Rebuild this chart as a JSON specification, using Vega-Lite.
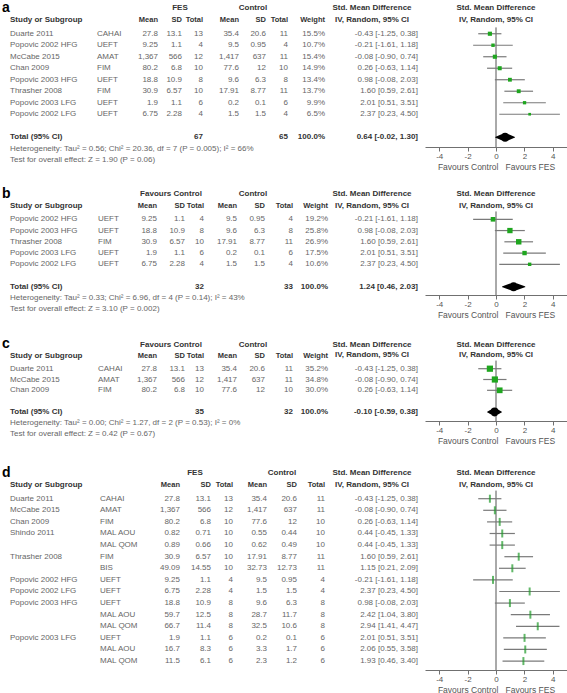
{
"$schema": "https://vega.github.io/schema/vega-lite/v6.json",
"padding": 0,
"background": "white",
"spacing": 0,
"bounds": "flush",
"columns": 2,
"resolve": {"scale": {"size": "independent"}},
"config": {"font": "Liberation Sans", "view": {"stroke": null}, "text": {"fontSize": 8, "color": "#666666"},
"axisX": {"grid": false, "domainColor": "#707070", "tickColor": "#707070", "tickSize": 4, "labelFontSize": 8, "labelColor": "#555555", "labelPadding": 1, "labelOverlap": false, "labelSeparation": 0, "titleFontSize": 8.5, "titleFontWeight": "normal", "titleColor": "#555555", "titlePadding": 2}},
"datasets": {
"cols": [{"key":"letter","col":0},{"key":"study","col":1},{"key":"measure","col":2},{"key":"m1","col":3},{"key":"g1","col":4},{"key":"sd1","col":5},{"key":"n1","col":6},{"key":"m2","col":7},{"key":"g2","col":8},{"key":"sd2","col":9},{"key":"n2","col":10},{"key":"wt","col":11},{"key":"smdh","col":12},{"key":"ci","col":13}],
"heads": [
{"panel":"a","row":-1,"key":"letter","text":"a","kind":"letter"},
{"panel":"a","row":-1,"key":"g1","text":"FES","kind":"center"},
{"panel":"a","row":-1,"key":"g2","text":"Control","kind":"center"},
{"panel":"a","row":-1,"key":"smdh","text":"Std. Mean Difference","kind":"center"},
{"panel":"a","row":0,"key":"smdh","text":"IV, Random, 95% CI","kind":"center"},
{"panel":"a","row":0,"key":"study","text":"Study or Subgroup","kind":"left"},
{"panel":"a","row":0,"key":"m1","text":"Mean","kind":"right"},
{"panel":"a","row":0,"key":"sd1","text":"SD","kind":"right"},
{"panel":"a","row":0,"key":"n1","text":"Total","kind":"right"},
{"panel":"a","row":0,"key":"m2","text":"Mean","kind":"right"},
{"panel":"a","row":0,"key":"sd2","text":"SD","kind":"right"},
{"panel":"a","row":0,"key":"n2","text":"Total","kind":"right"},
{"panel":"a","row":0,"key":"wt","text":"Weight","kind":"right"},
{"panel":"a","row":-1,"key":"plot","text":"Std. Mean Difference","kind":"plot"},
{"panel":"a","row":0,"key":"plot","text":"IV, Random, 95% CI","kind":"plot"},
{"panel":"a","row":11,"key":"study","text":"Heterogeneity: Tau² = 0.56; Chi² = 20.36, df = 7 (P = 0.005); I² = 66%","kind":"note"},
{"panel":"a","row":12,"key":"study","text":"Test for overall effect: Z = 1.90 (P = 0.06)","kind":"note"},
{"panel":"b","row":-1,"key":"letter","text":"b","kind":"letter"},
{"panel":"b","row":-1,"key":"g1","text":"Favours Control","kind":"center"},
{"panel":"b","row":-1,"key":"g2","text":"Control","kind":"center"},
{"panel":"b","row":-1,"key":"smdh","text":"Std. Mean Difference","kind":"center"},
{"panel":"b","row":0,"key":"smdh","text":"IV, Random, 95% CI","kind":"center"},
{"panel":"b","row":0,"key":"study","text":"Study or Subgroup","kind":"left"},
{"panel":"b","row":0,"key":"m1","text":"Mean","kind":"right"},
{"panel":"b","row":0,"key":"sd1","text":"SD","kind":"right"},
{"panel":"b","row":0,"key":"n1","text":"Total","kind":"right"},
{"panel":"b","row":0,"key":"m2","text":"Mean","kind":"right"},
{"panel":"b","row":0,"key":"sd2","text":"SD","kind":"right"},
{"panel":"b","row":0,"key":"n2","text":"Total","kind":"right"},
{"panel":"b","row":0,"key":"wt","text":"Weight","kind":"right"},
{"panel":"b","row":-1,"key":"plot","text":"Std. Mean Difference","kind":"plot"},
{"panel":"b","row":0,"key":"plot","text":"IV, Random, 95% CI","kind":"plot"},
{"panel":"b","row":8,"key":"study","text":"Heterogeneity: Tau² = 0.33; Chi² = 6.96, df = 4 (P = 0.14); I² = 43%","kind":"note"},
{"panel":"b","row":9,"key":"study","text":"Test for overall effect: Z = 3.10 (P = 0.002)","kind":"note"},
{"panel":"c","row":-1,"key":"letter","text":"c","kind":"letter"},
{"panel":"c","row":-1,"key":"g1","text":"Favours Control","kind":"center"},
{"panel":"c","row":-1,"key":"g2","text":"Control","kind":"center"},
{"panel":"c","row":-1,"key":"smdh","text":"Std. Mean Difference","kind":"center"},
{"panel":"c","row":0,"key":"smdh","text":"IV, Random, 95% CI","kind":"center"},
{"panel":"c","row":0,"key":"study","text":"Study or Subgroup","kind":"left"},
{"panel":"c","row":0,"key":"m1","text":"Mean","kind":"right"},
{"panel":"c","row":0,"key":"sd1","text":"SD","kind":"right"},
{"panel":"c","row":0,"key":"n1","text":"Total","kind":"right"},
{"panel":"c","row":0,"key":"m2","text":"Mean","kind":"right"},
{"panel":"c","row":0,"key":"sd2","text":"SD","kind":"right"},
{"panel":"c","row":0,"key":"n2","text":"Total","kind":"right"},
{"panel":"c","row":0,"key":"wt","text":"Weight","kind":"right"},
{"panel":"c","row":-1,"key":"plot","text":"Std. Mean Difference","kind":"plot"},
{"panel":"c","row":0,"key":"plot","text":"IV, Random, 95% CI","kind":"plot"},
{"panel":"c","row":6,"key":"study","text":"Heterogeneity: Tau² = 0.00; Chi² = 1.27, df = 2 (P = 0.53); I² = 0%","kind":"note"},
{"panel":"c","row":7,"key":"study","text":"Test for overall effect: Z = 0.42 (P = 0.67)","kind":"note"},
{"panel":"d","row":-1,"key":"letter","text":"d","kind":"letter"},
{"panel":"d","row":-1,"key":"g1","text":"FES","kind":"center"},
{"panel":"d","row":-1,"key":"g2","text":"Control","kind":"center"},
{"panel":"d","row":-1,"key":"smdh","text":"Std. Mean Difference","kind":"center"},
{"panel":"d","row":0,"key":"smdh","text":"IV, Random, 95% CI","kind":"center"},
{"panel":"d","row":0,"key":"study","text":"Study or Subgroup","kind":"left"},
{"panel":"d","row":0,"key":"m1","text":"Mean","kind":"right"},
{"panel":"d","row":0,"key":"sd1","text":"SD","kind":"right"},
{"panel":"d","row":0,"key":"n1","text":"Total","kind":"right"},
{"panel":"d","row":0,"key":"m2","text":"Mean","kind":"right"},
{"panel":"d","row":0,"key":"sd2","text":"SD","kind":"right"},
{"panel":"d","row":0,"key":"n2","text":"Total","kind":"right"},
{"panel":"d","row":-1,"key":"plot","text":"Std. Mean Difference","kind":"plot"},
{"panel":"d","row":0,"key":"plot","text":"IV, Random, 95% CI","kind":"plot"}
],
"studies": [
{"panel":"a","row":1,"study":"Duarte 2011","measure":"CAHAI","m1":"27.8","sd1":"13.1","n1":"13","m2":"35.4","sd2":"20.6","n2":"11","wt":"15.5%","ci":"-0.43 [-1.25, 0.38]","smd":-0.43,"lo":-1.25,"hi":0.38,"w":15.5},
{"panel":"a","row":2,"study":"Popovic 2002 HFG","measure":"UEFT","m1":"9.25","sd1":"1.1","n1":"4","m2":"9.5","sd2":"0.95","n2":"4","wt":"10.7%","ci":"-0.21 [-1.61, 1.18]","smd":-0.21,"lo":-1.61,"hi":1.18,"w":10.7},
{"panel":"a","row":3,"study":"McCabe 2015","measure":"AMAT","m1":"1,367","sd1":"566","n1":"12","m2":"1,417","sd2":"637","n2":"11","wt":"15.4%","ci":"-0.08 [-0.90, 0.74]","smd":-0.08,"lo":-0.90,"hi":0.74,"w":15.4},
{"panel":"a","row":4,"study":"Chan 2009","measure":"FIM","m1":"80.2","sd1":"6.8","n1":"10","m2":"77.6","sd2":"12","n2":"10","wt":"14.9%","ci":"0.26 [-0.63, 1.14]","smd":0.26,"lo":-0.63,"hi":1.14,"w":14.9},
{"panel":"a","row":5,"study":"Popovic 2003 HFG","measure":"UEFT","m1":"18.8","sd1":"10.9","n1":"8","m2":"9.6","sd2":"6.3","n2":"8","wt":"13.4%","ci":"0.98 [-0.08, 2.03]","smd":0.98,"lo":-0.08,"hi":2.03,"w":13.4},
{"panel":"a","row":6,"study":"Thrasher 2008","measure":"FIM","m1":"30.9","sd1":"6.57","n1":"10","m2":"17.91","sd2":"8.77","n2":"11","wt":"13.7%","ci":"1.60 [0.59, 2.61]","smd":1.60,"lo":0.59,"hi":2.61,"w":13.7},
{"panel":"a","row":7,"study":"Popovic 2003 LFG","measure":"UEFT","m1":"1.9","sd1":"1.1","n1":"6","m2":"0.2","sd2":"0.1","n2":"6","wt":"9.9%","ci":"2.01 [0.51, 3.51]","smd":2.01,"lo":0.51,"hi":3.51,"w":9.9},
{"panel":"a","row":8,"study":"Popovic 2002 LFG","measure":"UEFT","m1":"6.75","sd1":"2.28","n1":"4","m2":"1.5","sd2":"1.5","n2":"4","wt":"6.5%","ci":"2.37 [0.23, 4.50]","smd":2.37,"lo":0.23,"hi":4.50,"w":6.5},
{"panel":"b","row":1,"study":"Popovic 2002 HFG","measure":"UEFT","m1":"9.25","sd1":"1.1","n1":"4","m2":"9.5","sd2":"0.95","n2":"4","wt":"19.2%","ci":"-0.21 [-1.61, 1.18]","smd":-0.21,"lo":-1.61,"hi":1.18,"w":19.2},
{"panel":"b","row":2,"study":"Popovic 2003 HFG","measure":"UEFT","m1":"18.8","sd1":"10.9","n1":"8","m2":"9.6","sd2":"6.3","n2":"8","wt":"25.8%","ci":"0.98 [-0.08, 2.03]","smd":0.98,"lo":-0.08,"hi":2.03,"w":25.8},
{"panel":"b","row":3,"study":"Thrasher 2008","measure":"FIM","m1":"30.9","sd1":"6.57","n1":"10","m2":"17.91","sd2":"8.77","n2":"11","wt":"26.9%","ci":"1.60 [0.59, 2.61]","smd":1.60,"lo":0.59,"hi":2.61,"w":26.9},
{"panel":"b","row":4,"study":"Popovic 2003 LFG","measure":"UEFT","m1":"1.9","sd1":"1.1","n1":"6","m2":"0.2","sd2":"0.1","n2":"6","wt":"17.5%","ci":"2.01 [0.51, 3.51]","smd":2.01,"lo":0.51,"hi":3.51,"w":17.5},
{"panel":"b","row":5,"study":"Popovic 2002 LFG","measure":"UEFT","m1":"6.75","sd1":"2.28","n1":"4","m2":"1.5","sd2":"1.5","n2":"4","wt":"10.6%","ci":"2.37 [0.23, 4.50]","smd":2.37,"lo":0.23,"hi":4.50,"w":10.6},
{"panel":"c","row":1,"study":"Duarte 2011","measure":"CAHAI","m1":"27.8","sd1":"13.1","n1":"13","m2":"35.4","sd2":"20.6","n2":"11","wt":"35.2%","ci":"-0.43 [-1.25, 0.38]","smd":-0.43,"lo":-1.25,"hi":0.38,"w":35.2},
{"panel":"c","row":2,"study":"McCabe 2015","measure":"AMAT","m1":"1,367","sd1":"566","n1":"12","m2":"1,417","sd2":"637","n2":"11","wt":"34.8%","ci":"-0.08 [-0.90, 0.74]","smd":-0.08,"lo":-0.90,"hi":0.74,"w":34.8},
{"panel":"c","row":3,"study":"Chan 2009","measure":"FIM","m1":"80.2","sd1":"6.8","n1":"10","m2":"77.6","sd2":"12","n2":"10","wt":"30.0%","ci":"0.26 [-0.63, 1.14]","smd":0.26,"lo":-0.63,"hi":1.14,"w":30.0},
{"panel":"d","row":1,"study":"Duarte 2011","measure":"CAHAI","m1":"27.8","sd1":"13.1","n1":"13","m2":"35.4","sd2":"20.6","n2":"11","ci":"-0.43 [-1.25, 0.38]","smd":-0.43,"lo":-1.25,"hi":0.38},
{"panel":"d","row":2,"study":"McCabe 2015","measure":"AMAT","m1":"1,367","sd1":"566","n1":"12","m2":"1,417","sd2":"637","n2":"11","ci":"-0.08 [-0.90, 0.74]","smd":-0.08,"lo":-0.90,"hi":0.74},
{"panel":"d","row":3,"study":"Chan 2009","measure":"FIM","m1":"80.2","sd1":"6.8","n1":"10","m2":"77.6","sd2":"12","n2":"10","ci":"0.26 [-0.63, 1.14]","smd":0.26,"lo":-0.63,"hi":1.14},
{"panel":"d","row":4,"study":"Shindo 2011","measure":"MAL AOU","m1":"0.82","sd1":"0.71","n1":"10","m2":"0.55","sd2":"0.44","n2":"10","ci":"0.44 [-0.45, 1.33]","smd":0.44,"lo":-0.45,"hi":1.33},
{"panel":"d","row":5,"study":"","measure":"MAL QOM","m1":"0.89","sd1":"0.66","n1":"10","m2":"0.62","sd2":"0.49","n2":"10","ci":"0.44 [-0.45, 1.33]","smd":0.44,"lo":-0.45,"hi":1.33},
{"panel":"d","row":6,"study":"Thrasher 2008","measure":"FIM","m1":"30.9","sd1":"6.57","n1":"10","m2":"17.91","sd2":"8.77","n2":"11","ci":"1.60 [0.59, 2.61]","smd":1.60,"lo":0.59,"hi":2.61},
{"panel":"d","row":7,"study":"","measure":"BIS","m1":"49.09","sd1":"14.55","n1":"10","m2":"32.73","sd2":"12.73","n2":"11","ci":"1.15 [0.21, 2.09]","smd":1.15,"lo":0.21,"hi":2.09},
{"panel":"d","row":8,"study":"Popovic 2002 HFG","measure":"UEFT","m1":"9.25","sd1":"1.1","n1":"4","m2":"9.5","sd2":"0.95","n2":"4","ci":"-0.21 [-1.61, 1.18]","smd":-0.21,"lo":-1.61,"hi":1.18},
{"panel":"d","row":9,"study":"Popovic 2002 LFG","measure":"UEFT","m1":"6.75","sd1":"2.28","n1":"4","m2":"1.5","sd2":"1.5","n2":"4","ci":"2.37 [0.23, 4.50]","smd":2.37,"lo":0.23,"hi":4.50},
{"panel":"d","row":10,"study":"Popovic 2003 HFG","measure":"UEFT","m1":"18.8","sd1":"10.9","n1":"8","m2":"9.6","sd2":"6.3","n2":"8","ci":"0.98 [-0.08, 2.03]","smd":0.98,"lo":-0.08,"hi":2.03},
{"panel":"d","row":11,"study":"","measure":"MAL AOU","m1":"59.7","sd1":"12.5","n1":"8","m2":"28.7","sd2":"11.7","n2":"8","ci":"2.42 [1.04, 3.80]","smd":2.42,"lo":1.04,"hi":3.80},
{"panel":"d","row":12,"study":"","measure":"MAL QOM","m1":"66.7","sd1":"11.4","n1":"8","m2":"32.5","sd2":"10.6","n2":"8","ci":"2.94 [1.41, 4.47]","smd":2.94,"lo":1.41,"hi":4.47},
{"panel":"d","row":13,"study":"Popovic 2003 LFG","measure":"UEFT","m1":"1.9","sd1":"1.1","n1":"6","m2":"0.2","sd2":"0.1","n2":"6","ci":"2.01 [0.51, 3.51]","smd":2.01,"lo":0.51,"hi":3.51},
{"panel":"d","row":14,"study":"","measure":"MAL AOU","m1":"16.7","sd1":"8.3","n1":"6","m2":"3.3","sd2":"1.7","n2":"6","ci":"2.06 [0.55, 3.58]","smd":2.06,"lo":0.55,"hi":3.58},
{"panel":"d","row":15,"study":"","measure":"MAL QOM","m1":"11.5","sd1":"6.1","n1":"6","m2":"2.3","sd2":"1.2","n2":"6","ci":"1.93 [0.46, 3.40]","smd":1.93,"lo":0.46,"hi":3.40}
],
"totals": [
{"panel":"a","row":10,"study":"Total (95% CI)","n1":"67","n2":"65","wt":"100.0%","ci":"0.64 [-0.02, 1.30]","smd":0.64,"lo":-0.02,"hi":1.30},
{"panel":"b","row":7,"study":"Total (95% CI)","n1":"32","n2":"33","wt":"100.0%","ci":"1.24 [0.46, 2.03]","smd":1.24,"lo":0.46,"hi":2.03},
{"panel":"c","row":5,"study":"Total (95% CI)","n1":"35","n2":"32","wt":"100.0%","ci":"-0.10 [-0.59, 0.38]","smd":-0.10,"lo":-0.59,"hi":0.38}
],
"zero": [
{"panel":"a","top":0.45,"bottom":10.85},
{"panel":"b","top":0.3,"bottom":7.73},
{"panel":"c","top":0.25,"bottom":5.84},
{"panel":"d","top":0.3,"bottom":15.77}
]
},
"concat": [
{"width": 425, "height": 145,
"encoding": {"x": {"field":"col","type":"quantitative","axis":null,"scale":{"domain":[0,1,2,3,4,5,6,7,8,9,10,11,12,13],"range":[2,10,97,158,180,182,203,239,253,266,288,325,372,418],"nice":false,"zero":false}},
"y": {"field":"row","type":"quantitative","axis":null,"scale":{"domain":[-1.76,10.85],"reverse":true,"nice":false,"zero":false}}},
"layer": [
{"data":{"values":[{}]},"mark":{"type":"rule","color":"#8c8c8c","strokeWidth":1.5},"encoding":{"x":{"datum":0.75},"x2":{"datum":13.15},"y":{"datum":0.45}}},
{"data":{"name":"heads"},"transform":[{"filter":{"field":"panel","equal":"a"}},{"filter":{"field":"kind","equal":"letter"}},{"lookup":"key","from":{"data":{"name":"cols"},"key":"key","fields":["col"]}}],"mark":{"type":"text","align":"left","baseline":"alphabetic","fontSize":14,"fontWeight":"bold","color":"#000000","dy":1},"encoding":{"text":{"field":"text"}}},
{"data":{"name":"heads"},"transform":[{"filter":{"field":"panel","equal":"a"}},{"filter":{"field":"kind","equal":"center"}},{"lookup":"key","from":{"data":{"name":"cols"},"key":"key","fields":["col"]}}],"mark":{"type":"text","align":"center","fontWeight":"bold","color":"#333333","dy":-2.5},"encoding":{"text":{"field":"text"}}},
{"data":{"name":"heads"},"transform":[{"filter":{"field":"panel","equal":"a"}},{"filter":{"field":"kind","equal":"left"}},{"lookup":"key","from":{"data":{"name":"cols"},"key":"key","fields":["col"]}}],"mark":{"type":"text","align":"left","fontWeight":"bold","color":"#333333","dy":-2},"encoding":{"text":{"field":"text"}}},
{"data":{"name":"heads"},"transform":[{"filter":{"field":"panel","equal":"a"}},{"filter":{"field":"kind","equal":"right"}},{"lookup":"key","from":{"data":{"name":"cols"},"key":"key","fields":["col"]}}],"mark":{"type":"text","align":"right","fontWeight":"bold","fontSize":7.5,"color":"#333333","dy":-2},"encoding":{"text":{"field":"text"}}},
{"data":{"name":"heads"},"transform":[{"filter":{"field":"panel","equal":"a"}},{"filter":{"field":"kind","equal":"note"}},{"lookup":"key","from":{"data":{"name":"cols"},"key":"key","fields":["col"]}}],"mark":{"type":"text","align":"left"},"encoding":{"text":{"field":"text"}}},
{"data":{"name":"studies"},"transform":[{"filter":{"field":"panel","equal":"a"}},{"fold":["study","measure"],"as":["key","val"]},{"lookup":"key","from":{"data":{"name":"cols"},"key":"key","fields":["col"]}}],"mark":{"type":"text","align":"left"},"encoding":{"text":{"field":"val"}}},
{"data":{"name":"studies"},"transform":[{"filter":{"field":"panel","equal":"a"}},{"fold":["m1","sd1","n1","m2","sd2","n2","wt","ci"],"as":["key","val"]},{"lookup":"key","from":{"data":{"name":"cols"},"key":"key","fields":["col"]}}],"mark":{"type":"text","align":"right"},"encoding":{"text":{"field":"val"}}},
{"data":{"name":"totals"},"transform":[{"filter":{"field":"panel","equal":"a"}},{"fold":["study"],"as":["key","val"]},{"lookup":"key","from":{"data":{"name":"cols"},"key":"key","fields":["col"]}}],"mark":{"type":"text","align":"left","fontWeight":"bold","color":"#333333"},"encoding":{"text":{"field":"val"}}},
{"data":{"name":"totals"},"transform":[{"filter":{"field":"panel","equal":"a"}},{"fold":["n1","n2","wt","ci"],"as":["key","val"]},{"lookup":"key","from":{"data":{"name":"cols"},"key":"key","fields":["col"]}}],"mark":{"type":"text","align":"right","fontWeight":"bold","color":"#333333"},"encoding":{"text":{"field":"val"}}}
]},
{"width": 142, "height": 145,
"resolve": {"scale": {"size": "independent"}},
"encoding": {"y": {"field":"row","type":"quantitative","axis":null,"scale":{"domain":[-1.76,10.85],"reverse":true,"nice":false,"zero":false}}},
"layer": [
{"data":{"values":[{}]},"mark":{"type":"rule","color":"#8c8c8c","strokeWidth":1.5},"encoding":{"y":{"datum":0.45}}},
{"data":{"name":"zero"},"transform":[{"filter":{"field":"panel","equal":"a"}}],"mark":{"type":"rule","color":"#555555","strokeWidth":1},"encoding":{"x":{"datum":0,"axis":{"values":[-4,-2,0,2,4],"labelExpr":"datum.value","labelOverlap":false,"labelFlush":false,"title":"Favours Control\u00a0\u00a0\u00a0Favours FES"}},"y":{"field":"top","type":"quantitative"},"y2":{"field":"bottom"}}},
{"data":{"name":"studies"},"transform":[{"filter":{"field":"panel","equal":"a"}}],"mark":{"type":"rule","color":"#7a7a7a","strokeWidth":1.2},"encoding":{"x":{"field":"lo","type":"quantitative","scale":{"domain":[-5,5],"nice":false,"zero":false},"axis":{"values":[-4,-2,0,2,4],"labelExpr":"datum.value","labelOverlap":false,"labelFlush":false,"title":"Favours Control\u00a0\u00a0\u00a0Favours FES"}},"x2":{"field":"hi"}}},
{"data":{"name":"studies"},"transform":[{"filter":{"field":"panel","equal":"a"}}],"mark":{"type":"point","shape":"square","filled":true,"color":"#1fa61f","opacity":1,"strokeWidth":0},"encoding":{"x":{"field":"smd","type":"quantitative","axis":{"values":[-4,-2,0,2,4],"labelExpr":"datum.value","labelOverlap":false,"labelFlush":false,"title":"Favours Control\u00a0\u00a0\u00a0Favours FES"}},"size":{"field":"w","type":"quantitative","scale":{"domain":[0,40],"range":[0,44]},"legend":null}}},
{"data":{"name":"totals"},"transform":[{"filter":{"field":"panel","equal":"a"}},{"fold":["lo","smd","hi"],"as":["k","v"]}],"mark":{"type":"trail","color":"#000000"},"encoding":{"x":{"field":"v","type":"quantitative","axis":{"values":[-4,-2,0,2,4],"labelExpr":"datum.value","labelOverlap":false,"labelFlush":false,"title":"Favours Control\u00a0\u00a0\u00a0Favours FES"}},"size":{"field":"k","type":"ordinal","scale":{"type":"ordinal","domain":["lo","smd","hi"],"range":[0,9,0]},"legend":null}}},
{"data":{"name":"heads"},"transform":[{"filter":{"field":"panel","equal":"a"}},{"filter":{"field":"kind","equal":"plot"}}],"mark":{"type":"text","align":"center","fontWeight":"bold","color":"#333333","dy":-2.5},"encoding":{"x":{"datum":0,"axis":{"values":[-4,-2,0,2,4],"labelExpr":"datum.value","labelOverlap":false,"labelFlush":false,"title":"Favours Control\u00a0\u00a0\u00a0Favours FES"}},"text":{"field":"text"}}}
]},
{"width": 425, "height": 148,
"encoding": {"x": {"field":"col","type":"quantitative","axis":null,"scale":{"domain":[0,1,2,3,4,5,6,7,8,9,10,11,12,13],"range":[2,10,98,157,171,185,204,237,253,265,293,328,372,418],"nice":false,"zero":false}},
"y": {"field":"row","type":"quantitative","axis":null,"scale":{"domain":[-5.43,7.73],"reverse":true,"nice":false,"zero":false}}},
"layer": [
{"data":{"values":[{}]},"mark":{"type":"rule","color":"#8c8c8c","strokeWidth":1.5},"encoding":{"x":{"datum":0.75},"x2":{"datum":13.15},"y":{"datum":0.3}}},
{"data":{"name":"heads"},"transform":[{"filter":{"field":"panel","equal":"b"}},{"filter":{"field":"kind","equal":"letter"}},{"lookup":"key","from":{"data":{"name":"cols"},"key":"key","fields":["col"]}}],"mark":{"type":"text","align":"left","baseline":"alphabetic","fontSize":14,"fontWeight":"bold","color":"#000000","dy":1},"encoding":{"text":{"field":"text"}}},
{"data":{"name":"heads"},"transform":[{"filter":{"field":"panel","equal":"b"}},{"filter":{"field":"kind","equal":"center"}},{"lookup":"key","from":{"data":{"name":"cols"},"key":"key","fields":["col"]}}],"mark":{"type":"text","align":"center","fontWeight":"bold","color":"#333333","dy":-2.5},"encoding":{"text":{"field":"text"}}},
{"data":{"name":"heads"},"transform":[{"filter":{"field":"panel","equal":"b"}},{"filter":{"field":"kind","equal":"left"}},{"lookup":"key","from":{"data":{"name":"cols"},"key":"key","fields":["col"]}}],"mark":{"type":"text","align":"left","fontWeight":"bold","color":"#333333","dy":-2},"encoding":{"text":{"field":"text"}}},
{"data":{"name":"heads"},"transform":[{"filter":{"field":"panel","equal":"b"}},{"filter":{"field":"kind","equal":"right"}},{"lookup":"key","from":{"data":{"name":"cols"},"key":"key","fields":["col"]}}],"mark":{"type":"text","align":"right","fontWeight":"bold","fontSize":7.5,"color":"#333333","dy":-2},"encoding":{"text":{"field":"text"}}},
{"data":{"name":"heads"},"transform":[{"filter":{"field":"panel","equal":"b"}},{"filter":{"field":"kind","equal":"note"}},{"lookup":"key","from":{"data":{"name":"cols"},"key":"key","fields":["col"]}}],"mark":{"type":"text","align":"left"},"encoding":{"text":{"field":"text"}}},
{"data":{"name":"studies"},"transform":[{"filter":{"field":"panel","equal":"b"}},{"fold":["study","measure"],"as":["key","val"]},{"lookup":"key","from":{"data":{"name":"cols"},"key":"key","fields":["col"]}}],"mark":{"type":"text","align":"left"},"encoding":{"text":{"field":"val"}}},
{"data":{"name":"studies"},"transform":[{"filter":{"field":"panel","equal":"b"}},{"fold":["m1","sd1","n1","m2","sd2","n2","wt","ci"],"as":["key","val"]},{"lookup":"key","from":{"data":{"name":"cols"},"key":"key","fields":["col"]}}],"mark":{"type":"text","align":"right"},"encoding":{"text":{"field":"val"}}},
{"data":{"name":"totals"},"transform":[{"filter":{"field":"panel","equal":"b"}},{"fold":["study"],"as":["key","val"]},{"lookup":"key","from":{"data":{"name":"cols"},"key":"key","fields":["col"]}}],"mark":{"type":"text","align":"left","fontWeight":"bold","color":"#333333"},"encoding":{"text":{"field":"val"}}},
{"data":{"name":"totals"},"transform":[{"filter":{"field":"panel","equal":"b"}},{"fold":["n1","n2","wt","ci"],"as":["key","val"]},{"lookup":"key","from":{"data":{"name":"cols"},"key":"key","fields":["col"]}}],"mark":{"type":"text","align":"right","fontWeight":"bold","color":"#333333"},"encoding":{"text":{"field":"val"}}}
]},
{"width": 142, "height": 148,
"resolve": {"scale": {"size": "independent"}},
"encoding": {"y": {"field":"row","type":"quantitative","axis":null,"scale":{"domain":[-5.43,7.73],"reverse":true,"nice":false,"zero":false}}},
"layer": [
{"data":{"values":[{}]},"mark":{"type":"rule","color":"#8c8c8c","strokeWidth":1.5},"encoding":{"y":{"datum":0.3}}},
{"data":{"name":"zero"},"transform":[{"filter":{"field":"panel","equal":"b"}}],"mark":{"type":"rule","color":"#555555","strokeWidth":1},"encoding":{"x":{"datum":0,"axis":{"values":[-4,-2,0,2,4],"labelExpr":"datum.value","labelOverlap":false,"labelFlush":false,"title":"Favours Control\u00a0\u00a0\u00a0Favours FES"}},"y":{"field":"top","type":"quantitative"},"y2":{"field":"bottom"}}},
{"data":{"name":"studies"},"transform":[{"filter":{"field":"panel","equal":"b"}}],"mark":{"type":"rule","color":"#7a7a7a","strokeWidth":1.2},"encoding":{"x":{"field":"lo","type":"quantitative","scale":{"domain":[-5,5],"nice":false,"zero":false},"axis":{"values":[-4,-2,0,2,4],"labelExpr":"datum.value","labelOverlap":false,"labelFlush":false,"title":"Favours Control\u00a0\u00a0\u00a0Favours FES"}},"x2":{"field":"hi"}}},
{"data":{"name":"studies"},"transform":[{"filter":{"field":"panel","equal":"b"}}],"mark":{"type":"point","shape":"square","filled":true,"color":"#1fa61f","opacity":1,"strokeWidth":0},"encoding":{"x":{"field":"smd","type":"quantitative","axis":{"values":[-4,-2,0,2,4],"labelExpr":"datum.value","labelOverlap":false,"labelFlush":false,"title":"Favours Control\u00a0\u00a0\u00a0Favours FES"}},"size":{"field":"w","type":"quantitative","scale":{"domain":[0,40],"range":[0,44]},"legend":null}}},
{"data":{"name":"totals"},"transform":[{"filter":{"field":"panel","equal":"b"}},{"fold":["lo","smd","hi"],"as":["k","v"]}],"mark":{"type":"trail","color":"#000000"},"encoding":{"x":{"field":"v","type":"quantitative","axis":{"values":[-4,-2,0,2,4],"labelExpr":"datum.value","labelOverlap":false,"labelFlush":false,"title":"Favours Control\u00a0\u00a0\u00a0Favours FES"}},"size":{"field":"k","type":"ordinal","scale":{"type":"ordinal","domain":["lo","smd","hi"],"range":[0,9,0]},"legend":null}}},
{"data":{"name":"heads"},"transform":[{"filter":{"field":"panel","equal":"b"}},{"filter":{"field":"kind","equal":"plot"}}],"mark":{"type":"text","align":"center","fontWeight":"bold","color":"#333333","dy":-2.5},"encoding":{"x":{"datum":0,"axis":{"values":[-4,-2,0,2,4],"labelExpr":"datum.value","labelOverlap":false,"labelFlush":false,"title":"Favours Control\u00a0\u00a0\u00a0Favours FES"}},"text":{"field":"text"}}}
]},
{"width": 425, "height": 126,
"encoding": {"x": {"field":"col","type":"quantitative","axis":null,"scale":{"domain":[0,1,2,3,4,5,6,7,8,9,10,11,12,13],"range":[2,10,98,157,171,185,204,237,253,265,293,328,372,418],"nice":false,"zero":false}},
"y": {"field":"row","type":"quantitative","axis":null,"scale":{"domain":[-5.82,5.84],"reverse":true,"nice":false,"zero":false}}},
"layer": [
{"data":{"values":[{}]},"mark":{"type":"rule","color":"#8c8c8c","strokeWidth":1.5},"encoding":{"x":{"datum":0.75},"x2":{"datum":13.15},"y":{"datum":0.25}}},
{"data":{"name":"heads"},"transform":[{"filter":{"field":"panel","equal":"c"}},{"filter":{"field":"kind","equal":"letter"}},{"lookup":"key","from":{"data":{"name":"cols"},"key":"key","fields":["col"]}}],"mark":{"type":"text","align":"left","baseline":"alphabetic","fontSize":14,"fontWeight":"bold","color":"#000000","dy":1},"encoding":{"text":{"field":"text"}}},
{"data":{"name":"heads"},"transform":[{"filter":{"field":"panel","equal":"c"}},{"filter":{"field":"kind","equal":"center"}},{"lookup":"key","from":{"data":{"name":"cols"},"key":"key","fields":["col"]}}],"mark":{"type":"text","align":"center","fontWeight":"bold","color":"#333333","dy":-2.5},"encoding":{"text":{"field":"text"}}},
{"data":{"name":"heads"},"transform":[{"filter":{"field":"panel","equal":"c"}},{"filter":{"field":"kind","equal":"left"}},{"lookup":"key","from":{"data":{"name":"cols"},"key":"key","fields":["col"]}}],"mark":{"type":"text","align":"left","fontWeight":"bold","color":"#333333","dy":-2},"encoding":{"text":{"field":"text"}}},
{"data":{"name":"heads"},"transform":[{"filter":{"field":"panel","equal":"c"}},{"filter":{"field":"kind","equal":"right"}},{"lookup":"key","from":{"data":{"name":"cols"},"key":"key","fields":["col"]}}],"mark":{"type":"text","align":"right","fontWeight":"bold","fontSize":7.5,"color":"#333333","dy":-2},"encoding":{"text":{"field":"text"}}},
{"data":{"name":"heads"},"transform":[{"filter":{"field":"panel","equal":"c"}},{"filter":{"field":"kind","equal":"note"}},{"lookup":"key","from":{"data":{"name":"cols"},"key":"key","fields":["col"]}}],"mark":{"type":"text","align":"left"},"encoding":{"text":{"field":"text"}}},
{"data":{"name":"studies"},"transform":[{"filter":{"field":"panel","equal":"c"}},{"fold":["study","measure"],"as":["key","val"]},{"lookup":"key","from":{"data":{"name":"cols"},"key":"key","fields":["col"]}}],"mark":{"type":"text","align":"left"},"encoding":{"text":{"field":"val"}}},
{"data":{"name":"studies"},"transform":[{"filter":{"field":"panel","equal":"c"}},{"fold":["m1","sd1","n1","m2","sd2","n2","wt","ci"],"as":["key","val"]},{"lookup":"key","from":{"data":{"name":"cols"},"key":"key","fields":["col"]}}],"mark":{"type":"text","align":"right"},"encoding":{"text":{"field":"val"}}},
{"data":{"name":"totals"},"transform":[{"filter":{"field":"panel","equal":"c"}},{"fold":["study"],"as":["key","val"]},{"lookup":"key","from":{"data":{"name":"cols"},"key":"key","fields":["col"]}}],"mark":{"type":"text","align":"left","fontWeight":"bold","color":"#333333"},"encoding":{"text":{"field":"val"}}},
{"data":{"name":"totals"},"transform":[{"filter":{"field":"panel","equal":"c"}},{"fold":["n1","n2","wt","ci"],"as":["key","val"]},{"lookup":"key","from":{"data":{"name":"cols"},"key":"key","fields":["col"]}}],"mark":{"type":"text","align":"right","fontWeight":"bold","color":"#333333"},"encoding":{"text":{"field":"val"}}}
]},
{"width": 142, "height": 126,
"resolve": {"scale": {"size": "independent"}},
"encoding": {"y": {"field":"row","type":"quantitative","axis":null,"scale":{"domain":[-5.82,5.84],"reverse":true,"nice":false,"zero":false}}},
"layer": [
{"data":{"values":[{}]},"mark":{"type":"rule","color":"#8c8c8c","strokeWidth":1.5},"encoding":{"y":{"datum":0.25}}},
{"data":{"name":"zero"},"transform":[{"filter":{"field":"panel","equal":"c"}}],"mark":{"type":"rule","color":"#555555","strokeWidth":1},"encoding":{"x":{"datum":0,"axis":{"values":[-4,-2,0,2,4],"labelExpr":"datum.value","labelOverlap":false,"labelFlush":false,"title":"Favours Control\u00a0\u00a0\u00a0Favours FES"}},"y":{"field":"top","type":"quantitative"},"y2":{"field":"bottom"}}},
{"data":{"name":"studies"},"transform":[{"filter":{"field":"panel","equal":"c"}}],"mark":{"type":"rule","color":"#7a7a7a","strokeWidth":1.2},"encoding":{"x":{"field":"lo","type":"quantitative","scale":{"domain":[-5,5],"nice":false,"zero":false},"axis":{"values":[-4,-2,0,2,4],"labelExpr":"datum.value","labelOverlap":false,"labelFlush":false,"title":"Favours Control\u00a0\u00a0\u00a0Favours FES"}},"x2":{"field":"hi"}}},
{"data":{"name":"studies"},"transform":[{"filter":{"field":"panel","equal":"c"}}],"mark":{"type":"point","shape":"square","filled":true,"color":"#1fa61f","opacity":1,"strokeWidth":0},"encoding":{"x":{"field":"smd","type":"quantitative","axis":{"values":[-4,-2,0,2,4],"labelExpr":"datum.value","labelOverlap":false,"labelFlush":false,"title":"Favours Control\u00a0\u00a0\u00a0Favours FES"}},"size":{"field":"w","type":"quantitative","scale":{"domain":[0,40],"range":[0,44]},"legend":null}}},
{"data":{"name":"totals"},"transform":[{"filter":{"field":"panel","equal":"c"}},{"fold":["lo","smd","hi"],"as":["k","v"]}],"mark":{"type":"trail","color":"#000000"},"encoding":{"x":{"field":"v","type":"quantitative","axis":{"values":[-4,-2,0,2,4],"labelExpr":"datum.value","labelOverlap":false,"labelFlush":false,"title":"Favours Control\u00a0\u00a0\u00a0Favours FES"}},"size":{"field":"k","type":"ordinal","scale":{"type":"ordinal","domain":["lo","smd","hi"],"range":[0,9,0]},"legend":null}}},
{"data":{"name":"heads"},"transform":[{"filter":{"field":"panel","equal":"c"}},{"filter":{"field":"kind","equal":"plot"}}],"mark":{"type":"text","align":"center","fontWeight":"bold","color":"#333333","dy":-2.5},"encoding":{"x":{"datum":0,"axis":{"values":[-4,-2,0,2,4],"labelExpr":"datum.value","labelOverlap":false,"labelFlush":false,"title":"Favours Control\u00a0\u00a0\u00a0Favours FES"}},"text":{"field":"text"}}}
]},
{"width": 425, "height": 249,
"encoding": {"x": {"field":"col","type":"quantitative","axis":null,"scale":{"domain":[0,1,2,3,4,5,6,7,8,9,10,11,12,13],"range":[2,10,100,180,195,211,233,267,282,297,325,350,372,418],"nice":false,"zero":false}},
"y": {"field":"row","type":"quantitative","axis":null,"scale":{"domain":[-5.70,15.77],"reverse":true,"nice":false,"zero":false}}},
"layer": [
{"data":{"values":[{}]},"mark":{"type":"rule","color":"#8c8c8c","strokeWidth":1.5},"encoding":{"x":{"datum":0.75},"x2":{"datum":13.15},"y":{"datum":0.3}}},
{"data":{"name":"heads"},"transform":[{"filter":{"field":"panel","equal":"d"}},{"filter":{"field":"kind","equal":"letter"}},{"lookup":"key","from":{"data":{"name":"cols"},"key":"key","fields":["col"]}}],"mark":{"type":"text","align":"left","baseline":"alphabetic","fontSize":14,"fontWeight":"bold","color":"#000000","dy":1},"encoding":{"text":{"field":"text"}}},
{"data":{"name":"heads"},"transform":[{"filter":{"field":"panel","equal":"d"}},{"filter":{"field":"kind","equal":"center"}},{"lookup":"key","from":{"data":{"name":"cols"},"key":"key","fields":["col"]}}],"mark":{"type":"text","align":"center","fontWeight":"bold","color":"#333333","dy":-2.5},"encoding":{"text":{"field":"text"}}},
{"data":{"name":"heads"},"transform":[{"filter":{"field":"panel","equal":"d"}},{"filter":{"field":"kind","equal":"left"}},{"lookup":"key","from":{"data":{"name":"cols"},"key":"key","fields":["col"]}}],"mark":{"type":"text","align":"left","fontWeight":"bold","color":"#333333","dy":-2},"encoding":{"text":{"field":"text"}}},
{"data":{"name":"heads"},"transform":[{"filter":{"field":"panel","equal":"d"}},{"filter":{"field":"kind","equal":"right"}},{"lookup":"key","from":{"data":{"name":"cols"},"key":"key","fields":["col"]}}],"mark":{"type":"text","align":"right","fontWeight":"bold","fontSize":7.5,"color":"#333333","dy":-2},"encoding":{"text":{"field":"text"}}},
{"data":{"name":"studies"},"transform":[{"filter":{"field":"panel","equal":"d"}},{"fold":["study","measure"],"as":["key","val"]},{"lookup":"key","from":{"data":{"name":"cols"},"key":"key","fields":["col"]}}],"mark":{"type":"text","align":"left"},"encoding":{"text":{"field":"val"}}},
{"data":{"name":"studies"},"transform":[{"filter":{"field":"panel","equal":"d"}},{"fold":["m1","sd1","n1","m2","sd2","n2","ci"],"as":["key","val"]},{"lookup":"key","from":{"data":{"name":"cols"},"key":"key","fields":["col"]}}],"mark":{"type":"text","align":"right"},"encoding":{"text":{"field":"val"}}}
]},
{"width": 142, "height": 249,
"encoding": {"y": {"field":"row","type":"quantitative","axis":null,"scale":{"domain":[-5.70,15.77],"reverse":true,"nice":false,"zero":false}}},
"layer": [
{"data":{"values":[{}]},"mark":{"type":"rule","color":"#8c8c8c","strokeWidth":1.5},"encoding":{"y":{"datum":0.3}}},
{"data":{"name":"zero"},"transform":[{"filter":{"field":"panel","equal":"d"}}],"mark":{"type":"rule","color":"#555555","strokeWidth":1},"encoding":{"x":{"datum":0,"axis":{"values":[-4,-2,0,2,4],"labelExpr":"datum.value","labelOverlap":false,"labelFlush":false,"title":"Favours Control\u00a0\u00a0\u00a0Favours FES"}},"y":{"field":"top","type":"quantitative"},"y2":{"field":"bottom"}}},
{"data":{"name":"studies"},"transform":[{"filter":{"field":"panel","equal":"d"}}],"mark":{"type":"rule","color":"#7a7a7a","strokeWidth":1.2},"encoding":{"x":{"field":"lo","type":"quantitative","scale":{"domain":[-5,5],"nice":false,"zero":false},"axis":{"values":[-4,-2,0,2,4],"labelExpr":"datum.value","labelOverlap":false,"labelFlush":false,"title":"Favours Control\u00a0\u00a0\u00a0Favours FES"}},"x2":{"field":"hi"}}},
{"data":{"name":"studies"},"transform":[{"filter":{"field":"panel","equal":"d"}}],"mark":{"type":"tick","orient":"vertical","color":"#1f9a2a","size":8,"thickness":2},"encoding":{"x":{"field":"smd","type":"quantitative","axis":{"values":[-4,-2,0,2,4],"labelExpr":"datum.value","labelOverlap":false,"labelFlush":false,"title":"Favours Control\u00a0\u00a0\u00a0Favours FES"}}}},
{"data":{"name":"heads"},"transform":[{"filter":{"field":"panel","equal":"d"}},{"filter":{"field":"kind","equal":"plot"}}],"mark":{"type":"text","align":"center","fontWeight":"bold","color":"#333333","dy":-2.5},"encoding":{"x":{"datum":0,"axis":{"values":[-4,-2,0,2,4],"labelExpr":"datum.value","labelOverlap":false,"labelFlush":false,"title":"Favours Control\u00a0\u00a0\u00a0Favours FES"}},"text":{"field":"text"}}}
]}
]
}
